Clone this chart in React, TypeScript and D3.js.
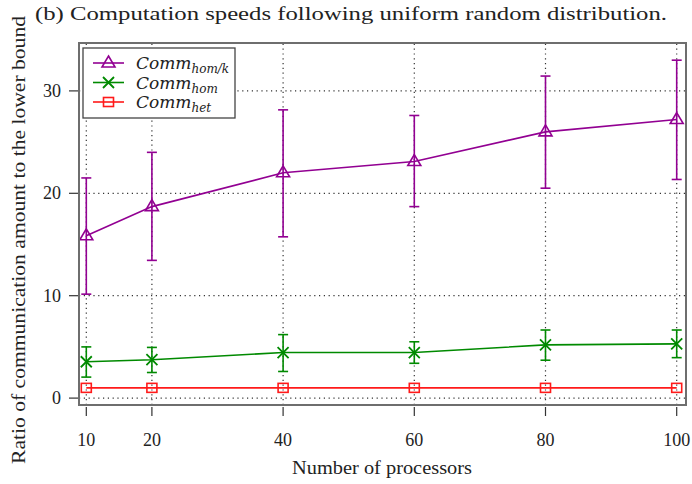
import * as d3 from "d3";

const processors = [10, 20, 40, 60, 80, 100];
const homKMean = [15.85, 18.7, 22.0, 23.1, 26.0, 27.2];
const homKLow = [10.15, 13.45, 15.75, 18.7, 20.5, 21.35];
const homKHigh = [21.5, 24.0, 28.15, 27.6, 31.45, 33.0];
const homMean = [3.55, 3.75, 4.45, 4.45, 5.2, 5.3];
const homLow = [2.05, 2.5, 2.6, 3.4, 3.7, 3.95];
const homHigh = [5.0, 4.95, 6.2, 5.5, 6.65, 6.65];
const hetMean = [1.0, 1.0, 1.0, 1.0, 1.0, 1.0];
const yTicks = [0, 10, 20, 30];

const W = 692;
const H = 484;
const box = { left: 79, right: 686, top: 43, bottom: 405 };
const FONT = "Liberation Serif";
const ITALIC_FONT = "'DejaVu Serif', serif";

const purple = "#920092";
const green = "#008a00";
const red = "#ff1a1a";

type Series = {
  name: string;
  sub: string;
  color: string;
  mean: number[];
  low?: number[];
  high?: number[];
  marker: "tri" | "cross" | "square";
};

const series: Series[] = [
  { name: "Comm", sub: "hom/k", color: purple, mean: homKMean, low: homKLow, high: homKHigh, marker: "tri" },
  { name: "Comm", sub: "hom", color: green, mean: homMean, low: homLow, high: homHigh, marker: "cross" },
  { name: "Comm", sub: "het", color: red, mean: hetMean, marker: "square" },
];

function Marker({ kind, x, y, color }: { kind: string; x: number; y: number; color: string }) {
  if (kind === "tri") {
    return <path d={`M${x},${y - 7}L${x + 6.5},${y + 4}L${x - 6.5},${y + 4}Z`} fill="none" stroke={color} strokeWidth={1.6} />;
  }
  if (kind === "cross") {
    return (
      <path d={`M${x - 5.5},${y - 5.5}L${x + 5.5},${y + 5.5}M${x - 5.5},${y + 5.5}L${x + 5.5},${y - 5.5}`} stroke={color} strokeWidth={1.8} />
    );
  }
  return <rect x={x - 5} y={y - 4.5} width={10} height={9} fill="none" stroke={color} strokeWidth={1.6} />;
}

export default function App() {
  const x = d3.scaleLinear([10, 100], [86.3, 676.7]);
  const y = d3.scaleLinear([0, 30], [398.1, 90.9]);
  const line = d3.line<number>((_, i) => x(processors[i]), (d) => y(d));

  return (
    <svg width={W} height={H} style={{ position: "absolute", left: 0, top: 0, background: "white", fontFamily: FONT }}>
      <text x={35} y={20} fontSize={19} textLength={632} lengthAdjust="spacingAndGlyphs" fill="#222">
        (b) Computation speeds following uniform random distribution.
      </text>

      {/* grid */}
      <g stroke="#333" strokeWidth={1.2} strokeDasharray="1.2,3.6">
        {processors.map((p) => (
          <line key={"gx" + p} x1={x(p)} x2={x(p)} y1={box.bottom} y2={box.top} />
        ))}
        {yTicks.map((t) => (
          <line key={"gy" + t} x1={box.left} x2={box.right} y1={y(t)} y2={y(t)} />
        ))}
      </g>

      {/* ticks */}
      <g stroke="#333" strokeWidth={1.2}>
        {processors.map((p) => (
          <line key={"tx" + p} x1={x(p)} x2={x(p)} y1={box.bottom + 2} y2={box.bottom + 11} />
        ))}
        {yTicks.map((t) => (
          <line key={"ty" + t} x1={box.left - 10} x2={box.left} y1={y(t)} y2={y(t)} />
        ))}
      </g>
      <g fontSize={18} fill="#222">
        {processors.map((p) => (
          <text key={"lx" + p} x={x(p)} y={446} textAnchor="middle">
            {p}
          </text>
        ))}
        {yTicks.map((t) => (
          <text key={"ly" + t} x={61} y={y(t) + 6} textAnchor="end">
            {t}
          </text>
        ))}
      </g>

      {/* series */}
      {series.map((s) => (
        <g key={s.sub}>
          <path d={line(s.mean) ?? ""} fill="none" stroke={s.color} strokeWidth={1.6} />
          {s.low &&
            s.high &&
            s.mean.map((_, i) => {
              const cx = x(processors[i]);
              const y1 = y(s.low![i]);
              const y2 = y(s.high![i]);
              return (
                <g key={i} stroke={s.color} strokeWidth={1.6}>
                  <line x1={cx} x2={cx} y1={y1} y2={y2} />
                  <line x1={cx - 5} x2={cx + 5} y1={y1} y2={y1} />
                  <line x1={cx - 5} x2={cx + 5} y1={y2} y2={y2} />
                </g>
              );
            })}
          {s.mean.map((v, i) => (
            <Marker key={"m" + i} kind={s.marker} x={x(processors[i])} y={y(v)} color={s.color} />
          ))}
        </g>
      ))}

      {/* frame */}
      <rect x={box.left} y={box.top} width={box.right - box.left} height={box.bottom - box.top} fill="none" stroke="#6e6e6e" strokeWidth={2} />

      {/* legend */}
      <g>
        <rect x={83} y={48} width={152} height={70} fill="white" stroke="#444" strokeWidth={1.3} />
        {series.map((s, i) => {
          const ly = 63 + i * 19.5;
          return (
            <g key={"lg" + s.sub}>
              <line x1={93} x2={124} y1={ly} y2={ly} stroke={s.color} strokeWidth={1.6} />
              <Marker kind={s.marker} x={108.5} y={ly} color={s.color} />
              <text x={136} y={ly + 6} fontSize={17} fontStyle="italic" fill="#222" style={{ fontFamily: ITALIC_FONT }}>
                {s.name}
                <tspan fontSize={12} dy={4}>
                  {s.sub}
                </tspan>
              </text>
            </g>
          );
        })}
      </g>

      {/* axis titles */}
      <text x={382} y={474} fontSize={18} textAnchor="middle" fill="#222" textLength={180} lengthAdjust="spacingAndGlyphs">
        Number of processors
      </text>
      <text
        transform={`translate(25,${(box.top + box.bottom) / 2 + 16}) rotate(-90)`}
        fontSize={18}
        textAnchor="middle"
        fill="#222"
        textLength={448}
        lengthAdjust="spacingAndGlyphs"
      >
        Ratio of communication amount to the lower bound
      </text>
    </svg>
  );
}
